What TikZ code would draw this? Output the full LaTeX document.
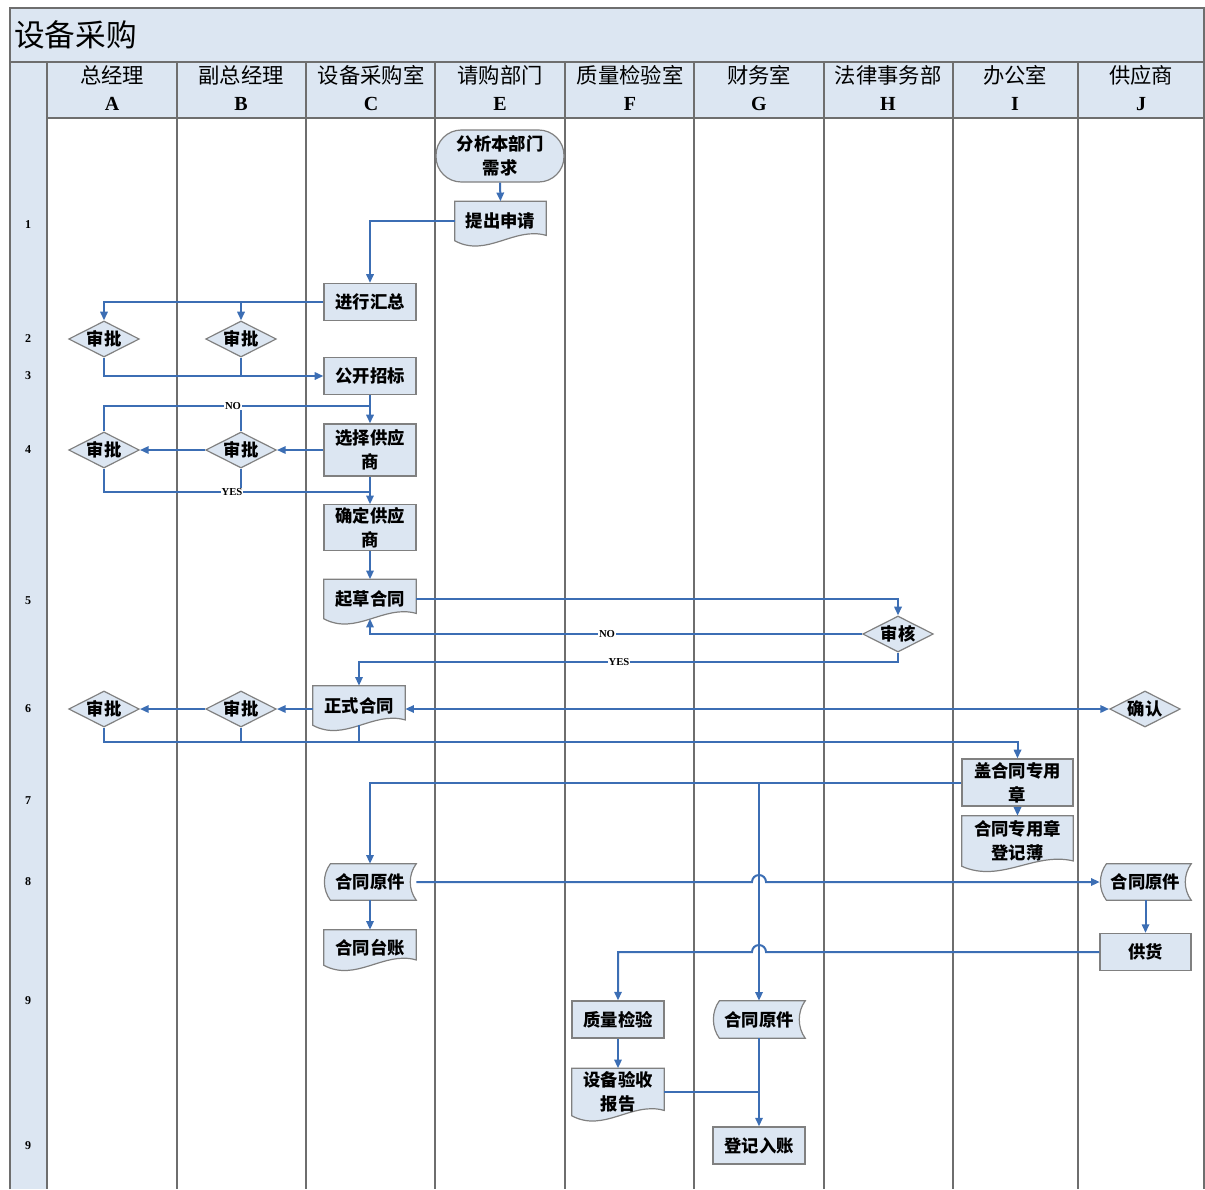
\documentclass[tikz,border=0pt]{standalone}
\usepackage{fontspec}
\setmainfont{Liberation Serif}
\newfontfamily\cjk{Noto Sans CJK SC}
\usetikzlibrary{arrows.meta,shapes.geometric,calc}
\definecolor{hdr}{HTML}{DCE6F2}
\definecolor{lnblue}{HTML}{3C6EB4}
\definecolor{lanegray}{HTML}{6E6E6E}
\definecolor{bordergray}{HTML}{808080}
\pgfdeclarelayer{lanes}
\pgfdeclarelayer{shapes}
\pgfsetlayers{lanes,shapes,main}
\newcommand\docshape[1]{%
  \begin{pgfonlayer}{shapes}
  \draw[shp] (#1.south west) -- (#1.north west) -- (#1.north east) -- ($(#1.south east)+(0pt,4pt)$)
    .. controls ($(#1.south west)!0.65!(#1.south east)+(0pt,11pt)$) and ($(#1.south west)!0.35!(#1.south east)+(0pt,-13pt)$) .. (#1.south west) -- cycle;
  \end{pgfonlayer}}
\newcommand\storeshape[1]{%
  \begin{pgfonlayer}{shapes}
  \draw[shp] (#1.north east) -- ($(#1.north west)+(5pt,0pt)$)
    .. controls ($(#1.north west)+(-1pt,-8pt)$) and ($(#1.south west)+(-1pt,8pt)$) .. ($(#1.south west)+(5pt,0pt)$)
    -- (#1.south east)
    .. controls ($(#1.south east)+(-6pt,8pt)$) and ($(#1.north east)+(-6pt,-8pt)$) .. (#1.north east) -- cycle;
  \end{pgfonlayer}}
\begin{document}
\begin{tikzpicture}[x=0.75pt,y=-0.75pt,
  >={Triangle[length=6.5pt,width=5.5pt]},
  nfont/.style={font=\cjk\bfseries\fontsize{13}{18}\selectfont},
  box/.style={rectangle, draw=bordergray, fill=hdr, line width=0.9pt, nfont, align=center, inner sep=1pt, minimum width=69pt, minimum height=27.75pt},
  term/.style={box, rounded corners=19pt, minimum width=96pt, minimum height=39pt},
  dec/.style={diamond, aspect=2, draw=bordergray, fill=hdr, line width=0.9pt, nfont, inner sep=0pt, minimum width=53pt, minimum height=27pt},
  docnode/.style={rectangle, draw=none, fill=none, nfont, align=center, inner sep=1pt, minimum width=69pt},
  shp/.style={draw=bordergray, fill=hdr, line width=0.9pt},
  conn/.style={draw=lnblue, line width=1.5pt},
  arr/.style={conn, ->},
  lbl/.style={font=\bfseries\fontsize{8}{9}\selectfont, fill=white, inner sep=0.6pt},
  lane/.style={draw=lanegray, line width=1.1pt},
  head/.style={font=\cjk\fontsize{16}{18}\selectfont},
  letter/.style={font=\bfseries\fontsize{15}{17}\selectfont},
  rownum/.style={font=\bfseries\fontsize{9}{10}\selectfont}]
\useasboundingbox (0,0) rectangle (1205,1189);
% ---------- swimlane frame ----------
\begin{pgfonlayer}{lanes}
\fill[hdr] (10,8) rectangle (1204,118);
\fill[hdr] (10,118) rectangle (47,1189);
\draw[lane] (10,1189) -- (10,8) -- (1204,8) -- (1204,1189);
\draw[lane] (10,62) -- (1204,62);
\draw[lane] (47,118) -- (1204,118);
\foreach \xx in {47,177,306,435,565,694,824,953,1078} {\draw[lane] (\xx,62) -- (\xx,1189);}
\end{pgfonlayer}
\node[font=\cjk\fontsize{23}{26}\selectfont, anchor=west, inner sep=0pt] (title) at (14,35) {设备采购};
% headers
\node[head] (hA) at (112,75) {总经理};     \node[letter] (lA) at (112,104) {A};
\node[head] (hB) at (241,75) {副总经理};   \node[letter] (lB) at (241,104) {B};
\node[head] (hC) at (371,75) {设备采购室}; \node[letter] (lC) at (371,104) {C};
\node[head] (hE) at (500,75) {请购部门};   \node[letter] (lE) at (500,104) {E};
\node[head] (hF) at (630,75) {质量检验室}; \node[letter] (lF) at (630,104) {F};
\node[head] (hG) at (759,75) {财务室};     \node[letter] (lG) at (759,104) {G};
\node[head] (hH) at (888,75) {法律事务部}; \node[letter] (lH) at (888,104) {H};
\node[head] (hI) at (1015,75) {办公室};    \node[letter] (lI) at (1015,104) {I};
\node[head] (hJ) at (1141,75) {供应商};    \node[letter] (lJ) at (1141,104) {J};
% row numbers
\node[rownum] (r1) at (28,225) {1};
\node[rownum] (r2) at (28,339) {2};
\node[rownum] (r3) at (28,376) {3};
\node[rownum] (r4) at (28,450) {4};
\node[rownum] (r5) at (28,601) {5};
\node[rownum] (r6) at (28,709) {6};
\node[rownum] (r7) at (28,801) {7};
\node[rownum] (r8) at (28,882) {8};
\node[rownum] (r9) at (28,1001) {9};
\node[rownum] (r10) at (28,1146) {9};
% ---------- nodes ----------
\node[term] (n1) at (500,156) {分析本部门\\需求};
\node[docnode, minimum width=68.25pt, minimum height=29.25pt] (n2) at (500.5,221) {提出申请};
\node[box] (n3) at (370,302) {进行汇总};
\node[dec] (d1) at (104,339) {审批};
\node[dec] (d2) at (241,339) {审批};
\node[box] (n4) at (370,376) {公开招标};
\node[box, minimum height=39pt] (n5) at (370,450) {选择供应\\商};
\node[dec] (d3) at (104,450) {审批};
\node[dec] (d4) at (241,450) {审批};
\node[box, minimum height=34pt] (n6) at (370,527.5) {确定供应\\商};
\node[docnode, minimum height=29.25pt] (n7) at (370,599) {起草合同};
\node[dec] (d5) at (898,634) {审核};
\node[docnode, minimum height=29.25pt] (n8) at (359,705.5) {正式合同};
\node[dec] (d6) at (104,709) {审批};
\node[dec] (d7) at (241,709) {审批};
\node[dec] (d8) at (1145,709) {确认};
\node[box, minimum width=83.25pt, minimum height=35.25pt] (n9) at (1017.5,782.5) {盖合同专用\\章};
\node[docnode, minimum width=83.25pt, minimum height=37.5pt] (n10) at (1017.5,841) {合同专用章\\登记薄};
\node[docnode, minimum height=27pt] (n11) at (370,882) {合同原件};
\node[docnode, minimum height=26.25pt] (n12) at (370,947.5) {合同台账};
\node[docnode, minimum width=68.25pt, minimum height=27pt] (n13) at (1145.5,882) {合同原件};
\node[box, minimum width=68.25pt] (n14) at (1145.5,952) {供货};
\node[box] (n15) at (618,1019.5) {质量检验};
\node[docnode, minimum height=27.75pt] (n16) at (759,1019.5) {合同原件};
\node[docnode, minimum height=35.25pt] (n17) at (618,1092) {设备验收\\报告};
\node[box] (n18) at (759,1145.5) {登记入账};
\docshape{n2}\docshape{n7}\docshape{n8}\docshape{n10}\docshape{n12}\docshape{n17}
\storeshape{n11}\storeshape{n13}\storeshape{n16}
% ---------- connectors ----------
\coordinate (yNO) at (0,406);
\coordinate (yYES) at (0,492);
\coordinate (yY2) at (0,662);
\coordinate (yJ) at (0,742);
\draw[arr] (n1.south) -- (n2.north);
\draw[arr] (n2.west) -| (n3.north);
\draw[arr] (n3.west) -| (d1.north);
\draw[arr] (d2.north |- n3.west) -- (d2.north);
\draw[arr] (d1.south) |- (n4.west);
\draw[conn] (d2.south) -- (d2.south |- n4.west);
\draw[arr] (n4.south) -- (n5.north);
\draw[conn] (d3.north) |- (n5.north |- yNO);
\draw[conn] (d4.north) -- (d4.north |- yNO);
\draw[arr] (n5.west) -- (d4.east);
\draw[arr] (d4.west) -- (d3.east);
\draw[conn] (d3.south) |- (n5.south |- yYES);
\draw[conn] (d4.south) -- (d4.south |- yYES);
\draw[arr] (n5.south) -- (n6.north);
\draw[arr] (n6.south) -- (n7.north);
\draw[arr] (n7.east) -| (d5.north);
\draw[arr] (d5.west) -| (n7.south);
\draw[arr] (d5.south) -- (d5.south |- yY2) -| (n8.north);
\draw[arr] (n8.west |- d7.east) -- (d7.east);
\draw[arr] (d7.west) -- (d6.east);
\draw[conn, <->] (n8.east |- d8.west) -- (d8.west);
\draw[arr] (d6.south) -- (d6.south |- yJ) -| (n9.north);
\draw[conn] (d7.south) -- (d7.south |- yJ);
\draw[conn] (n8.south) -- (n8.south |- yJ);
\draw[arr] (n9.south) -- (n10.north);
\draw[arr] (n9.west) -| (n11.north);
\draw[arr] (n9.west -| n16.north) -- (n16.north);
\draw[arr] (n11.east) -- ($(n11.east -| n16.north)+(-7,0)$) arc[start angle=180, end angle=360, radius=7] -- (n13.west);
\draw[arr] (n11.south) -- (n12.north);
\draw[arr] (n13.south) -- (n14.north);
\draw[arr] (n14.west) -- ($(n14.west -| n16.north)+(7,0)$) arc[start angle=0, end angle=-180, radius=7] -| (n15.north);
\draw[arr] (n15.south) -- (n17.north);
\draw[arr] (n16.south) -- (n18.north);
\draw[conn] (n17.east) -- (n17.east -| n16.south);
% labels
\node[lbl] (lno1) at (233,406) {NO};
\node[lbl] (lyes1) at (232,492) {YES};
\node[lbl] (lno2) at (607,634) {NO};
\node[lbl] (lyes2) at (619,662) {YES};
\end{tikzpicture}
\end{document}
